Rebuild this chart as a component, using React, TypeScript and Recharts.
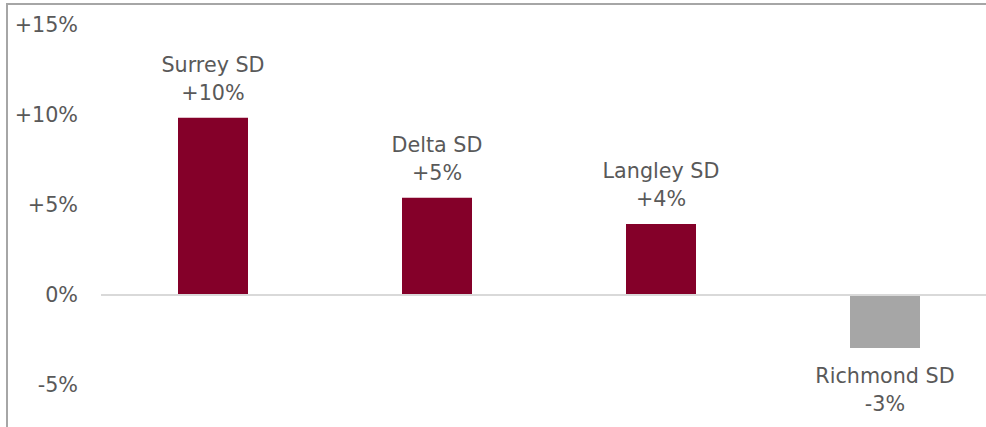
import React from 'react';
import { BarChart, Bar, XAxis, YAxis, Cell, ReferenceLine, LabelList } from 'recharts';

const categories = ['Surrey SD', 'Delta SD', 'Langley SD', 'Richmond SD'];
const values = [9.85, 5.4, 3.95, -2.95];
const valueLabels = ['+10%', '+5%', '+4%', '-3%'];
const yTicks = [-5, 0, 5, 10, 15];
const yTickLabels = ['-5%', '0%', '+5%', '+10%', '+15%'];

const POS = '#840029';
const NEG = '#a6a6a6';
const TEXT = '#595959';
const FONT = '"DejaVu Sans", Verdana, sans-serif';
const FS = 20.7;

const data = categories.map((c, i) => ({ name: c, value: values[i], label: valueLabels[i] }));

const TwoLineLabel = (props: any) => {
  const { x, y, width, height, index } = props;
  const cx = x + width / 2;
  const v = values[index];
  const name = categories[index];
  const lab = valueLabels[index];
  if (v >= 0) {
    const top = Math.min(y, y + height);
    return (
      <g>
        <text x={cx} y={top - 53} textAnchor="middle" dominantBaseline="central" fill={TEXT} fontSize={FS} fontFamily={FONT}>{name}</text>
        <text x={cx} y={top - 25} textAnchor="middle" dominantBaseline="central" fill={TEXT} fontSize={FS} fontFamily={FONT}>{lab}</text>
      </g>
    );
  }
  const bottom = Math.max(y, y + height);
  return (
    <g>
      <text x={cx} y={bottom + 28} textAnchor="middle" dominantBaseline="central" fill={TEXT} fontSize={FS} fontFamily={FONT}>{name}</text>
      <text x={cx} y={bottom + 56} textAnchor="middle" dominantBaseline="central" fill={TEXT} fontSize={FS} fontFamily={FONT}>{lab}</text>
    </g>
  );
};

export default function App() {
  return (
    <div style={{ position: 'absolute', left: 0, top: 0, width: 986, height: 427, overflow: 'hidden', background: '#fff' }}>
      <div style={{ position: 'absolute', left: 6, top: 3, width: 990, height: 440, borderTop: '2px solid #a6a6a6', borderLeft: '2px solid #a6a6a6', boxSizing: 'border-box' }} />
      <BarChart width={1000} height={427} data={data} margin={{ top: 25, right: 3, bottom: 42, left: 0 }}>
        <XAxis dataKey="name" hide />
        <YAxis
          width={101}
          domain={[-5, 15]}
          ticks={yTicks}
          allowDataOverflow
          axisLine={false}
          tickLine={false}
          tickSize={0}
          tickMargin={23}
          tickFormatter={(v: number) => yTickLabels[yTicks.indexOf(v)]}
          tick={{ fill: TEXT, fontSize: FS, fontFamily: FONT }}
        />
        <ReferenceLine y={0} stroke="#d9d9d9" strokeWidth={2} />
        <Bar dataKey="value" barSize={70} isAnimationActive={false}>
          {data.map((d, i) => (
            <Cell key={i} fill={d.value >= 0 ? POS : NEG} />
          ))}
          <LabelList dataKey="value" content={TwoLineLabel} />
        </Bar>
      </BarChart>
    </div>
  );
}
